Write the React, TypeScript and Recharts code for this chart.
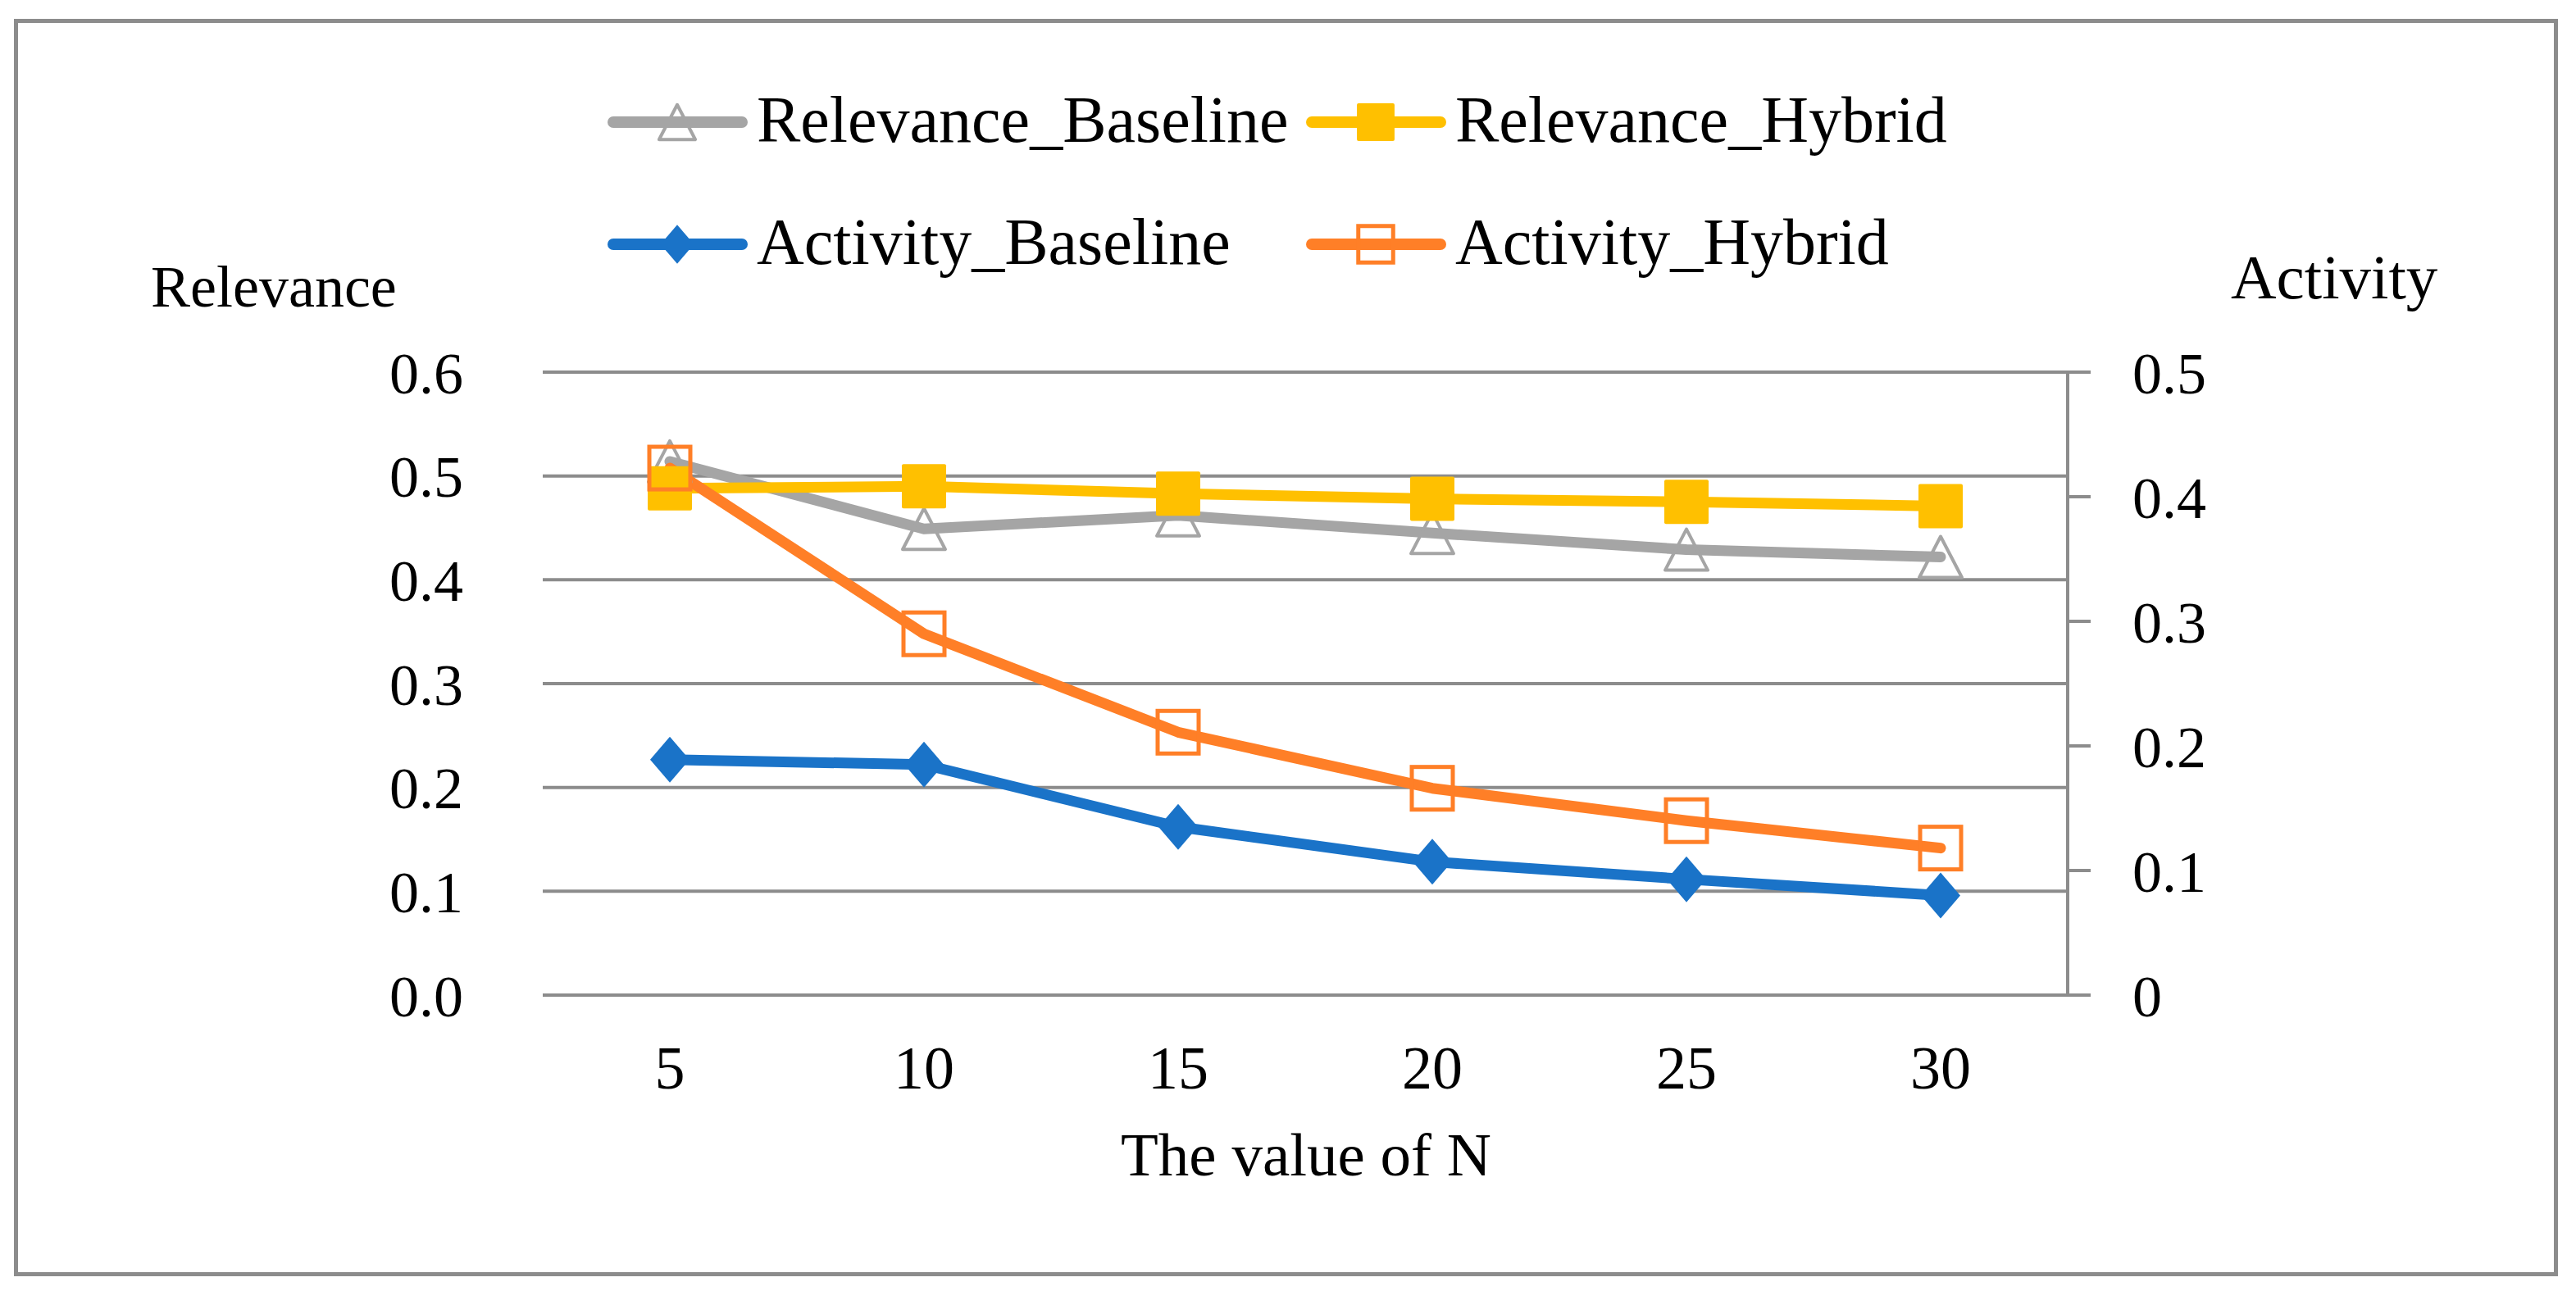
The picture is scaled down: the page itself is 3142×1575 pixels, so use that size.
import { LineChart, Line, XAxis, YAxis, CartesianGrid, Legend } from 'recharts';

const nValues = [5, 10, 15, 20, 25, 30];
const relevanceBaseline = [0.514, 0.449, 0.462, 0.445, 0.429, 0.422];
const relevanceHybrid = [0.488, 0.49, 0.483, 0.478, 0.475, 0.471];
const activityBaseline = [0.189, 0.185, 0.135, 0.107, 0.093, 0.08];
const activityHybrid = [0.423, 0.29, 0.211, 0.166, 0.14, 0.118];

const relevanceTicks = [0, 0.1, 0.2, 0.3, 0.4, 0.5, 0.6];
const activityTicks = [0, 0.1, 0.2, 0.3, 0.4, 0.5];

const seriesOrder = ['Relevance_Baseline', 'Relevance_Hybrid', 'Activity_Baseline', 'Activity_Hybrid'];

const data = nValues.map((n, i) => ({
  n,
  Relevance_Baseline: relevanceBaseline[i],
  Relevance_Hybrid: relevanceHybrid[i],
  Activity_Baseline: activityBaseline[i],
  Activity_Hybrid: activityHybrid[i],
}));

const FONT = '"Liberation Serif", "Times New Roman", serif';
const GRID = '#8c8c8c';
const GRAY = '#a5a5a5';
const YELLOW = '#ffc000';
const BLUE = '#1a73c8';
const ORANGE = '#ff7f27';

// marker shapes, drawn around (cx, cy)
const Marker = ({ kind, cx, cy, scale = 1 }: any) => {
  if (cx == null || cy == null) return null;
  if (kind === 'triangle') {
    const w = 26 * scale, h = 25 * scale;
    return (
      <path
        d={`M${cx},${cy - h} L${cx + w},${cy + h} L${cx - w},${cy + h} Z`}
        fill="none" stroke={GRAY} strokeWidth={4} strokeLinejoin="round"
      />
    );
  }
  if (kind === 'square') {
    const s = 27 * scale;
    return <rect x={cx - s} y={cy - s} width={2 * s} height={2 * s} rx={2} fill={YELLOW} />;
  }
  if (kind === 'diamond') {
    const w = 24 * scale, h = 28 * scale;
    return (
      <path d={`M${cx},${cy - h} L${cx + w},${cy} L${cx},${cy + h} L${cx - w},${cy} Z`} fill={BLUE} />
    );
  }
  const s = 25 * scale;
  return (
    <rect x={cx - s} y={cy - s - 1} width={2 * s} height={2 * s + 2} fill="none" stroke={ORANGE} strokeWidth={5} />
  );
};

const markerOf: Record<string, string> = {
  Relevance_Baseline: 'triangle',
  Relevance_Hybrid: 'square',
  Activity_Baseline: 'diamond',
  Activity_Hybrid: 'box',
};

const legendCols = [741, 1593];
const legendRows = [149, 298];

const renderLegend = (props: any) => {
  const items = [...(props.payload || [])].sort(
    (a: any, b: any) => seriesOrder.indexOf(a.dataKey) - seriesOrder.indexOf(b.dataKey)
  );
  return (
    <svg width={3142} height={360} style={{ display: 'block' }}>
      {items.map((it: any, i: number) => {
        const x = legendCols[i % 2];
        const y = legendRows[Math.floor(i / 2)];
        return (
          <g key={it.value}>
            <line x1={x + 7} x2={x + 164} y1={y} y2={y} stroke={it.color} strokeWidth={14} strokeLinecap="round" />
            <Marker kind={markerOf[it.dataKey]} cx={x + 85} cy={y} scale={0.85} />
            <text x={x + 182} y={y + 24} fontSize={80} fontFamily={FONT} fill="#000">
              {it.value}
            </text>
          </g>
        );
      })}
    </svg>
  );
};

const dotFor = (kind: string) => (p: any) => <Marker key={`${kind}-${p.index}`} kind={kind} cx={p.cx} cy={p.cy} />;

const fmtLeft = (v: number) => v.toFixed(1);
const fmtRight = (v: number) => (v === 0 ? '0' : v.toFixed(1));

export default function App() {
  return (
    <div style={{ position: 'absolute', left: 0, top: 0, width: 3142, height: 1575, background: '#fff' }}>
      <div
        style={{
          position: 'absolute', left: 17, top: 23, width: 3103, height: 1534,
          border: `5px solid ${GRID}`, boxSizing: 'border-box', pointerEvents: 'none',
        }}
      />
      <LineChart
        width={3142}
        height={1575}
        data={data}
        margin={{ top: 454, right: 0, bottom: 0, left: 0 }}
        style={{ position: 'absolute', left: 0, top: 0, fontFamily: FONT }}
      >
        <CartesianGrid yAxisId="left" vertical={false} stroke={GRID} strokeWidth={4} ticks={relevanceTicks} />
        <XAxis
          dataKey="n"
          type="category"
          height={361}
          padding={{ left: 155, right: 155 }}
          axisLine={false}
          tickLine={false}
          tickSize={10}
          tickMargin={51}
          tick={{ fontSize: 74, fill: '#000', fontFamily: FONT }}
          label={() => (
            <text x={1593} y={1434} textAnchor="middle" fontSize={75} fontFamily={FONT} fill="#000">
              The value of N
            </text>
          )}
        />
        <YAxis
          yAxisId="left"
          orientation="left"
          width={662}
          domain={[0, 0.6]}
          ticks={relevanceTicks}
          tickFormatter={fmtLeft}
          axisLine={false}
          tickLine={false}
          tickSize={20}
          tickMargin={77}
          tick={{ fontSize: 72, fill: '#000', fontFamily: FONT }}
          label={() => (
            <text x={184} y={374} fontSize={72} fontFamily={FONT} fill="#000">
              Relevance
            </text>
          )}
        />
        <YAxis
          yAxisId="right"
          orientation="right"
          width={620}
          domain={[0, 0.5]}
          ticks={activityTicks}
          tickFormatter={fmtRight}
          axisLine={{ stroke: GRID, strokeWidth: 4 }}
          tickLine={{ stroke: GRID, strokeWidth: 4 }}
          tickSize={28}
          tickMargin={51}
          tick={{ fontSize: 72, fill: '#000', fontFamily: FONT, textAnchor: 'start' }}
          label={() => (
            <text x={2721} y={364} fontSize={77} fontFamily={FONT} fill="#000">
              Activity
            </text>
          )}
        />
        <Legend
          layout="horizontal"
          verticalAlign="middle"
          align="center"
          content={renderLegend}
          wrapperStyle={{ position: 'absolute', left: 0, top: 0, width: 3142, height: 360 }}
        />
        <Line
          yAxisId="left"
          dataKey="Relevance_Baseline"
          name="Relevance_Baseline"
          stroke={GRAY}
          strokeWidth={13}
          strokeLinecap="round"
          strokeLinejoin="round"
          dot={dotFor('triangle')}
          activeDot={false}
          isAnimationActive={false}
        />
        <Line
          yAxisId="left"
          dataKey="Relevance_Hybrid"
          name="Relevance_Hybrid"
          stroke={YELLOW}
          strokeWidth={13}
          strokeLinecap="round"
          strokeLinejoin="round"
          dot={dotFor('square')}
          activeDot={false}
          isAnimationActive={false}
        />
        <Line
          yAxisId="right"
          dataKey="Activity_Baseline"
          name="Activity_Baseline"
          stroke={BLUE}
          strokeWidth={13}
          strokeLinecap="round"
          strokeLinejoin="round"
          dot={dotFor('diamond')}
          activeDot={false}
          isAnimationActive={false}
        />
        <Line
          yAxisId="right"
          dataKey="Activity_Hybrid"
          name="Activity_Hybrid"
          stroke={ORANGE}
          strokeWidth={13}
          strokeLinecap="round"
          strokeLinejoin="round"
          dot={dotFor('box')}
          activeDot={false}
          isAnimationActive={false}
        />
      </LineChart>
    </div>
  );
}
